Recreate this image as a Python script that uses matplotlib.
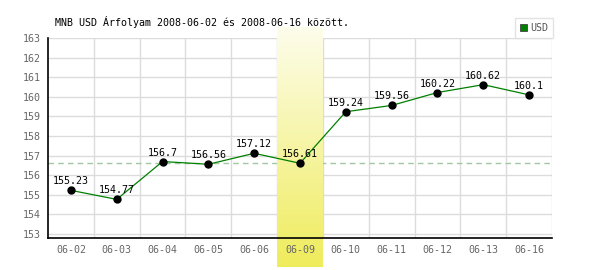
import matplotlib
matplotlib.use("Agg")
import matplotlib.pyplot as plt
import numpy as np
from matplotlib.patches import Patch
from matplotlib.colors import to_rgb

dates = ["06-02", "06-03", "06-04", "06-05", "06-06", "06-09",
         "06-10", "06-11", "06-12", "06-13", "06-16"]
usd = [155.23, 154.77, 156.7, 156.56, 157.12, 156.61,
       159.24, 159.56, 160.22, 160.62, 160.1]
value_labels = ["155.23", "154.77", "156.7", "156.56", "157.12", "156.61",
                "159.24", "159.56", "160.22", "160.62", "160.1"]
highlight_index = 5
ref_value = 156.61
y_ticks = list(range(153, 164))
title = "MNB USD Árfolyam 2008-06-02 és 2008-06-16 között."

plt.rcParams['font.family'] = ['DejaVu Sans Mono']
fs = 7.2

fig = plt.figure(figsize=(6, 2.7), dpi=100)
ax = fig.add_axes([48/600, 32/270, 504/600, 200/270])

x = np.arange(len(dates))
ymin, ymax = 152.8, 163.0

# grid drawn manually, below the highlight band
grid_c = '#dcdcdc'
ax.hlines(y_ticks, -0.5, len(dates) - 0.5, colors=grid_c, lw=1, zorder=0.2)
ax.vlines(np.arange(len(dates)) + 0.5, ymin, ymax, colors=grid_c, lw=1, zorder=0.2)

ax.axhline(ref_value, color="#a3c6a3", lw=1, ls=(0, (4, 3)), zorder=0.3)

# highlight band with gradient (extends above and below plot)
top_c = np.array(to_rgb("#fdfdec"))
bot_c = np.array(to_rgb("#efec5c"))
t = np.linspace(0, 1, 256)[:, None]
grad = (top_c * (1 - t) + bot_c * t)[:, None, :]
band_top = ymax + 10/19.6
band_bot = ymax - (267-38)/19.6
ax.imshow(grad, extent=[highlight_index-0.5, highlight_index+0.5, band_bot, band_top],
          aspect='auto', clip_on=False, zorder=0.5, interpolation='bilinear')

ax.plot(x, usd, color="#008000", lw=0.9, zorder=3)
ax.plot(x, usd, 'o', color="black", ms=5, zorder=4)
for xi, yi, lab in zip(x, usd, value_labels):
    ax.annotate(lab, (xi, yi), xytext=(0, 4), textcoords='offset pixels',
                ha='center', va='bottom', fontsize=fs, color='black', zorder=5)

ax.set_xlim(-0.5, len(dates) - 0.5)
ax.set_ylim(ymin, ymax)
ax.set_xticks(x)
ax.set_xticklabels(dates)
ax.set_yticks(y_ticks)
ax.tick_params(axis='both', which='both', length=0, labelsize=fs, labelcolor='#666666')
ax.tick_params(axis='x', pad=5)
ax.tick_params(axis='y', pad=5)

for s in ['top', 'right']:
    ax.spines[s].set_visible(False)
for s in ['left', 'bottom']:
    ax.spines[s].set_color('black')
    ax.spines[s].set_linewidth(1.2)
    ax.spines[s].set_zorder(6)

fig.text(55/600, 1 - 22/270, title, ha='left', va='center', fontsize=fs, color='black')

leg = ax.legend(handles=[Patch(facecolor='#008000', edgecolor='#444444', lw=0.6, label='USD')],
                loc='lower right', bbox_to_anchor=(553/600, 1 - 38/270),
                bbox_transform=fig.transFigure, fontsize=fs, frameon=True,
                fancybox=False, borderpad=0.5, handlelength=0.7, handleheight=0.7,
                handletextpad=0.3, borderaxespad=0)
leg.get_frame().set_edgecolor('#dddddd')
leg.get_frame().set_linewidth(1)
for txt in leg.get_texts():
    txt.set_color('#555555')

fig.savefig("out.png", dpi=100)
